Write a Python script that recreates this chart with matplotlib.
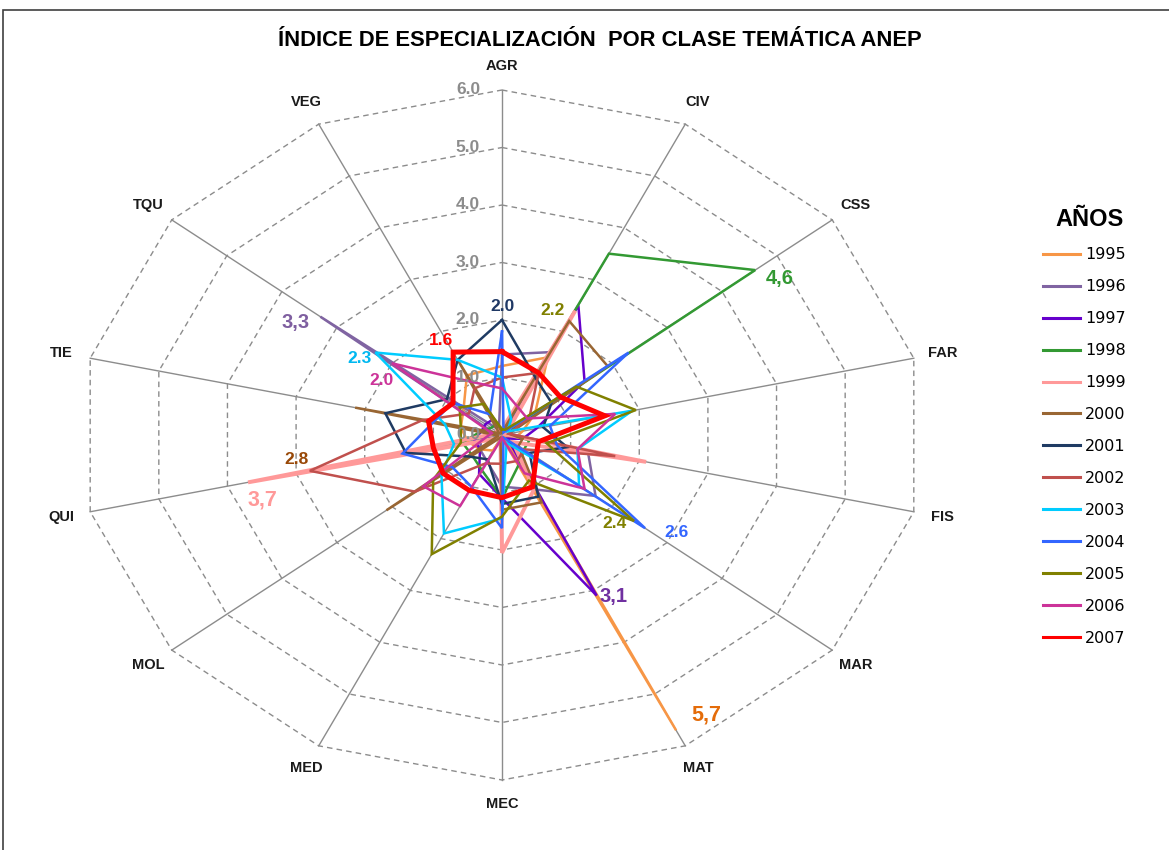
import numpy as np
import matplotlib
matplotlib.use('Agg')
import matplotlib.pyplot as plt
from matplotlib.lines import Line2D
from matplotlib.patches import Rectangle

plt.rcParams['font.family'] = ['Liberation Sans', 'DejaVu Sans']

# categories (clockwise from top)
categories = ['AGR', 'CIV', 'CSS', 'FAR', 'FIS', 'MAR', 'MAT', 'MEC',
              'MED', 'MOL', 'QUI', 'TIE', 'TQU', 'VEG']
years = ['1995', '1996', '1997', '1998', '1999', '2000', '2001',
         '2002', '2003', '2004', '2005', '2006', '2007']
colors = ['#F79646', '#8064A2', '#6600CC', '#339933', '#FF9999', '#996633',
          '#1F3B63', '#C0504D', '#00CCFF', '#3366FF', '#808000', '#CC3399',
          '#FF0000']

# values (AGR ... VEG)
v1995 = [1.2, 1.5, 0.6, 0.3, 0.2, 0.05, 5.7, 0.05, 0.3, 0.4, 0.5, 0.6, 0.7, 1.15]
v1996 = [1.4, 1.6, 0.05, 0.1, 1.25, 1.7, 1.05, 0.9, 0.5, 0.4, 0.3, 0.1, 3.3, 0.1]
v1997 = [0.05, 2.5, 1.5, 0.5, 0.3, 0.1, 3.1, 1.1, 0.75, 0.4, 0.4, 0.3, 0.3, 0.3]
v1998 = [0.05, 3.5, 4.6, 0.05, 0.4, 0.4, 0.56, 1.1, 0.67, 0.55, 0.58, 0.3, 0.2, 0.2]
v1999 = [0.1, 2.4, 0.1, 0.05, 2.1, 0.2, 1.05, 2.05, 0.05, 0.1, 3.7, 0.1, 0.1, 0.1]
v2000 = [0.05, 2.2, 1.92, 0.1, 0.3, 0.3, 1.3, 1.3, 0.05, 2.1, 0.05, 2.14, 0.05, 1.45]
v2001 = [2.0, 1.1, 0.9, 0.6, 0.95, 0.5, 1.19, 1.2, 0.47, 0.6, 1.4, 1.7, 1.0, 1.45]
v2002 = [1.0, 1.2, 0.5, 0.1, 1.65, 0.4, 0.5, 0.5, 0.55, 1.58, 2.8, 1.16, 0.6, 0.9]
v2003 = [1.0, 0.3, 0.1, 1.9, 1.1, 1.4, 0.15, 1.45, 1.9, 1.1, 0.7, 0.83, 2.3, 1.45]
v2004 = [1.8, 0.05, 2.3, 0.7, 0.8, 2.6, 0.05, 1.62, 1.0, 0.9, 1.45, 1.0, 0.9, 0.4]
v2005 = [0.1, 0.1, 1.35, 1.95, 0.65, 2.4, 0.88, 1.42, 2.3, 1.25, 0.6, 0.6, 0.77, 0.6]
v2006 = [0.81, 0.53, 0.46, 1.65, 1.1, 1.5, 0.74, 0.05, 1.37, 1.43, 0.25, 0.15, 2.0, 1.03]
v2007 = [1.45, 1.2, 1.06, 1.5, 0.53, 0.62, 1.0, 1.09, 1.07, 1.07, 1.0, 1.07, 0.89, 1.6]

series = [v1995, v1996, v1997, v1998, v1999, v2000, v2001,
          v2002, v2003, v2004, v2005, v2006, v2007]

ticks = [0, 1, 2, 3, 4, 5, 6]

# data labels: (year index, category index, text, color, size, dx px, dy px)
labels = [
    (6, 0, '2.0', '#1F3864', 12.5, 1, 13),
    (5, 1, '2.2', '#808000', 12.5, -17, 11),
    (3, 2, '4,6', '#339933', 14.5, 25, -8),
    (12, 13, '1.6', '#FF0000', 12.5, -12, 12),
    (1, 12, '3,3', '#7F5FA0', 14.5, -25, -6),
    (8, 12, '2.3', '#00B8F0', 12.5, -16, -6),
    (11, 12, '2.0', '#CC3399', 12.5, -10, -17),
    (7, 10, '2.8', '#984807', 12.5, -13, 11),
    (4, 10, '3,7', '#FF9999', 15.5, 14, -18),
    (10, 5, '2.4', '#808000', 12.5, -20, -2),
    (9, 5, '2.6', '#3366FF', 12.5, 31, -4),
    (2, 6, '3,1', '#7030A0', 14.5, 17, -1),
    (0, 6, '5,7', '#E46C0A', 15.5, 30, 15),
]

n = len(categories)
theta = np.arange(n) * 2 * np.pi / n
sx, sy = np.sin(theta), np.cos(theta)

fig = plt.figure(figsize=(11.69, 8.5), dpi=100)
ax = fig.add_axes([0.00787, 0.01471, 0.84311, 0.94706])
ax.set_xlim(-7, 7)
ax.set_ylim(-7, 7)
ax.axis('off')

# grid polygons and spokes
for r in ticks[1:]:
    ax.plot(np.append(r * sx, r * sx[0]), np.append(r * sy, r * sy[0]),
            color='#8C8C8C', lw=1, ls=(0, (4, 3)), zorder=1)
for k in range(n):
    ax.plot([0, 6 * sx[k]], [0, 6 * sy[k]], color='#8C8C8C', lw=1, zorder=1)

# series
for vals, c, yr in zip(series, colors, years):
    v = np.array(vals)
    lw = 1.8
    if yr == '2007':
        lw = 3.6
    elif yr == '1999':
        lw = 2.8
    ax.plot(np.append(v * sx, v[0] * sx[0]), np.append(v * sy, v[0] * sy[0]),
            color=c, lw=lw, solid_joinstyle='miter', zorder=3)

# radial tick labels
for r in ticks:
    ax.annotate(f'{r:.1f}', xy=(0, r), xytext=(-34, 0), textcoords='offset pixels',
                ha='center', va='center', fontsize=12.5, fontweight='bold',
                color='#8C8C8C', zorder=4)

# category labels
for k, cat in enumerate(categories):
    ax.text(6.42 * sx[k], 6.42 * sy[k], cat, ha='center', va='center',
            fontsize=10.5, fontweight='bold', color='#1a1a1a')

# value labels
for si, k, txt, c, fs, dx, dy in labels:
    val = series[si][k]
    ax.annotate(txt, xy=(val * sx[k], val * sy[k]), xytext=(dx, dy),
                textcoords='offset pixels', ha='center', va='center',
                fontsize=fs, fontweight='bold', color=c, zorder=5)

fig.text(600 / 1169, 1 - 40 / 850, 'ÍNDICE DE ESPECIALIZACIÓN  POR CLASE TEMÁTICA ANEP',
         ha='center', va='center', fontsize=15.8, fontweight='bold')

fig.text(1090 / 1169, 1 - 220 / 850, 'AÑOS', ha='center', va='center',
         fontsize=17, fontweight='bold')

handles = [Line2D([], [], color=c, lw=2.2) for c in colors]
leg = fig.legend(handles, years, loc='upper left', bbox_to_anchor=(1029 / 1169, 1 - 233 / 850),
                 frameon=False, prop={'family': 'DejaVu Sans', 'size': 11.5},
                 handlelength=2.3, labelspacing=1.06, handletextpad=0.3)

fig.add_artist(Rectangle((3 / 1169, -0.05), 1.2, 1 - 10 / 850 + 0.05,
                         transform=fig.transFigure, fill=False,
                         ec='#404040', lw=1.2))

fig.savefig('out.png', dpi=100)
